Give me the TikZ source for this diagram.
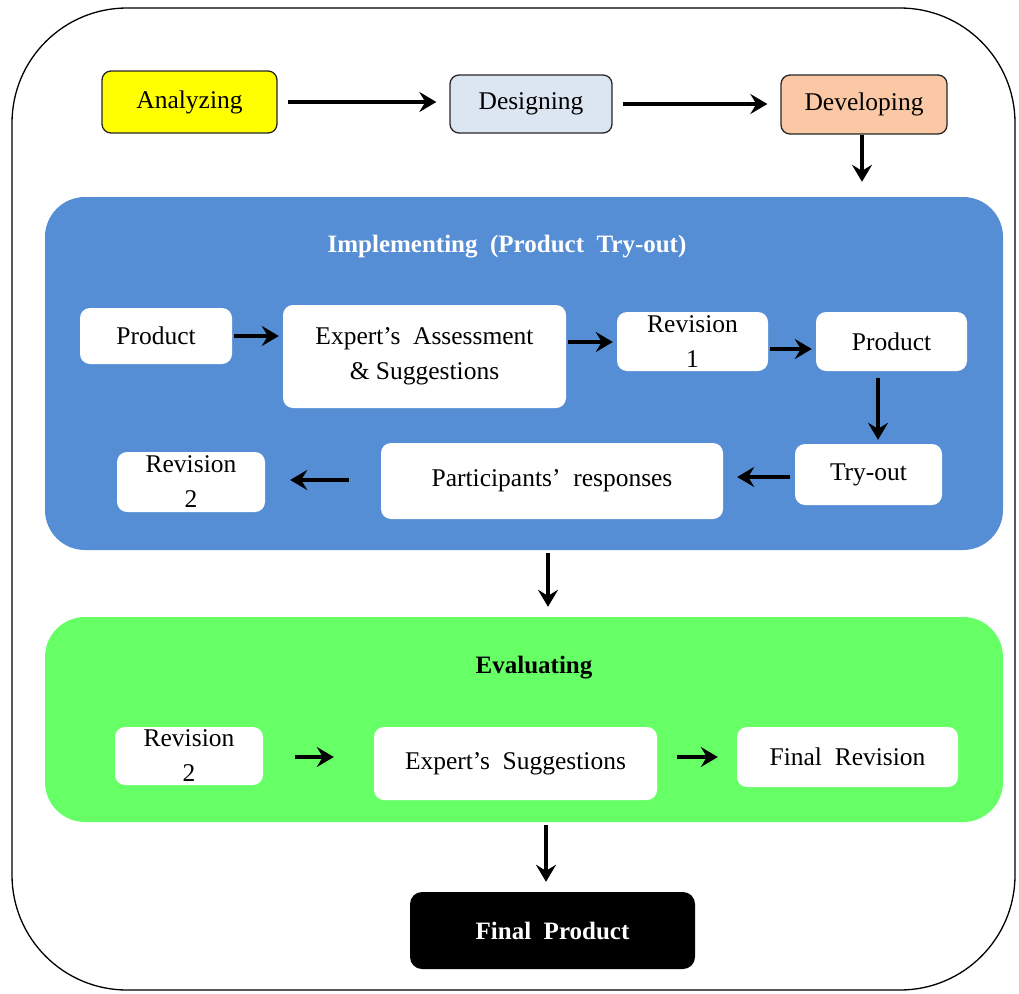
\documentclass[tikz,border=0pt]{standalone}
\usepackage{fontspec}
\setmainfont{Liberation Serif}
\usetikzlibrary{arrows.meta}
\definecolor{implblue}{RGB}{85,142,213}
\definecolor{evalgreen}{RGB}{102,255,102}
\definecolor{anyellow}{RGB}{255,255,0}
\definecolor{deblue}{RGB}{220,230,242}
\definecolor{devorange}{RGB}{250,200,165}
\begin{document}
\begin{tikzpicture}[x=1pt,y=-1pt,
  txt/.style={font=\fontsize{25.5}{35}\selectfont, align=center, text=black},
  topbox/.style={txt, draw=black!85, line width=1.3pt, rounded corners=9pt, inner sep=0pt},
  wbox/.style={txt, fill=white, rounded corners=10pt, inner sep=0pt},
  arr/.style={line width=3.8pt, -{Stealth[length=17pt,width=20pt,inset=6pt]}},
  panel/.style={rounded corners=40pt, inner sep=0pt},
  ttl/.style={font=\fontsize{25}{28}\selectfont\bfseries}
]
\useasboundingbox (0,0) rectangle (1019,993);
% outer frame
\draw[line width=1.3pt, rounded corners=115pt] (12,8) rectangle (1015,990);

% top row
\node[topbox, fill=anyellow, minimum width=175, minimum height=62] (an) at (189.5,102) {Analyzing};
\node[topbox, fill=deblue, minimum width=162, minimum height=58] (des) at (531,104) {Designing};
\node[topbox, fill=devorange, minimum width=166, minimum height=59] (dev) at (864,104.5) {Developing};
\draw[arr, shorten <=10pt, shorten >=13pt] (an.east) -- (an.east -| des.west);
\draw[arr, shorten <=10pt, shorten >=13pt] (des.east) -- (des.east -| dev.west);

% implementing panel
\node[panel, fill=implblue, minimum width=958, minimum height=353] (impl) at (524,373.5) {};
\node[ttl, text=white] (implt) at (507,247) {Implementing\ \ (Product\ \ Try-out)};
\draw[arr, shorten >=15pt] (dev.south -| 862,0) -- (impl.north -| 862,0);

\node[wbox, minimum width=152, minimum height=56] (p1) at (156,336) {Product};
\node[wbox, minimum width=283, minimum height=103] (ea) at (424.5,356.5) {Expert’s\ \ Assessment\\\&\ Suggestions};
\node[wbox, minimum width=151, minimum height=59] (r1) at (692.5,341.5) {Revision\\1};
\node[wbox, minimum width=151, minimum height=59] (p2) at (891.5,341.5) {Product};
\node[wbox, minimum width=147, minimum height=61] (to) at (868.5,474.5) {Try-out};
\node[wbox, minimum width=342, minimum height=76] (pr) at (552,481) {Participants’\ \ responses};
\node[wbox, minimum width=148, minimum height=60] (r2a) at (191,482) {Revision\\2};

\draw[arr, shorten <=2pt, shorten >=4pt] (p1.east) -- (p1.east -| ea.west);
\draw[arr, shorten <=2pt, shorten >=4pt] (ea.east |- 342,342) -- (r1.west |- 342,342);
\draw[arr, shorten <=2pt, shorten >=4pt] (r1.east |- 349,349) -- (p2.west |- 349,349);
\draw[arr, shorten <=7pt, shorten >=4pt] (p2.south -| 878,0) -- (to.north -| 878,0);
\draw[arr, shorten <=5pt, shorten >=14pt] (to.west |- 477,477) -- (pr.east |- 477,477);
\draw[arr, shorten <=32pt, shorten >=25pt] (pr.west |- 480,480) -- (r2a.east |- 480,480);

% evaluating panel
\node[panel, fill=evalgreen, minimum width=958, minimum height=205] (ev) at (524,719.5) {};
\draw[arr, shorten <=3pt, shorten >=10pt] (impl.south -| 548,0) -- (ev.north -| 548,0);
\node[ttl, text=black] (evt) at (534,668) {Evaluating};

\node[wbox, minimum width=148, minimum height=58] (r2b) at (189,756) {Revision\\2};
\node[wbox, minimum width=283, minimum height=73] (es) at (515.5,763.5) {Expert’s\ \ Suggestions};
\node[wbox, minimum width=221, minimum height=60] (fr) at (847.5,757) {Final\ \ Revision};
\draw[arr, shorten <=32pt, shorten >=40pt] (r2b.east |- 757,757) -- (es.west |- 757,757);
\draw[arr, shorten <=20pt, shorten >=19pt] (es.east |- 757,757) -- (fr.west |- 757,757);

% final product
\node[rounded corners=12pt, fill=black, text=white, ttl, minimum width=285, minimum height=77] (fp) at (552.5,930.5) {Final\ \ Product};
\draw[arr, shorten <=3pt, shorten >=10pt] (ev.south -| 546,0) -- (fp.north -| 546,0);
\end{tikzpicture}
\end{document}
